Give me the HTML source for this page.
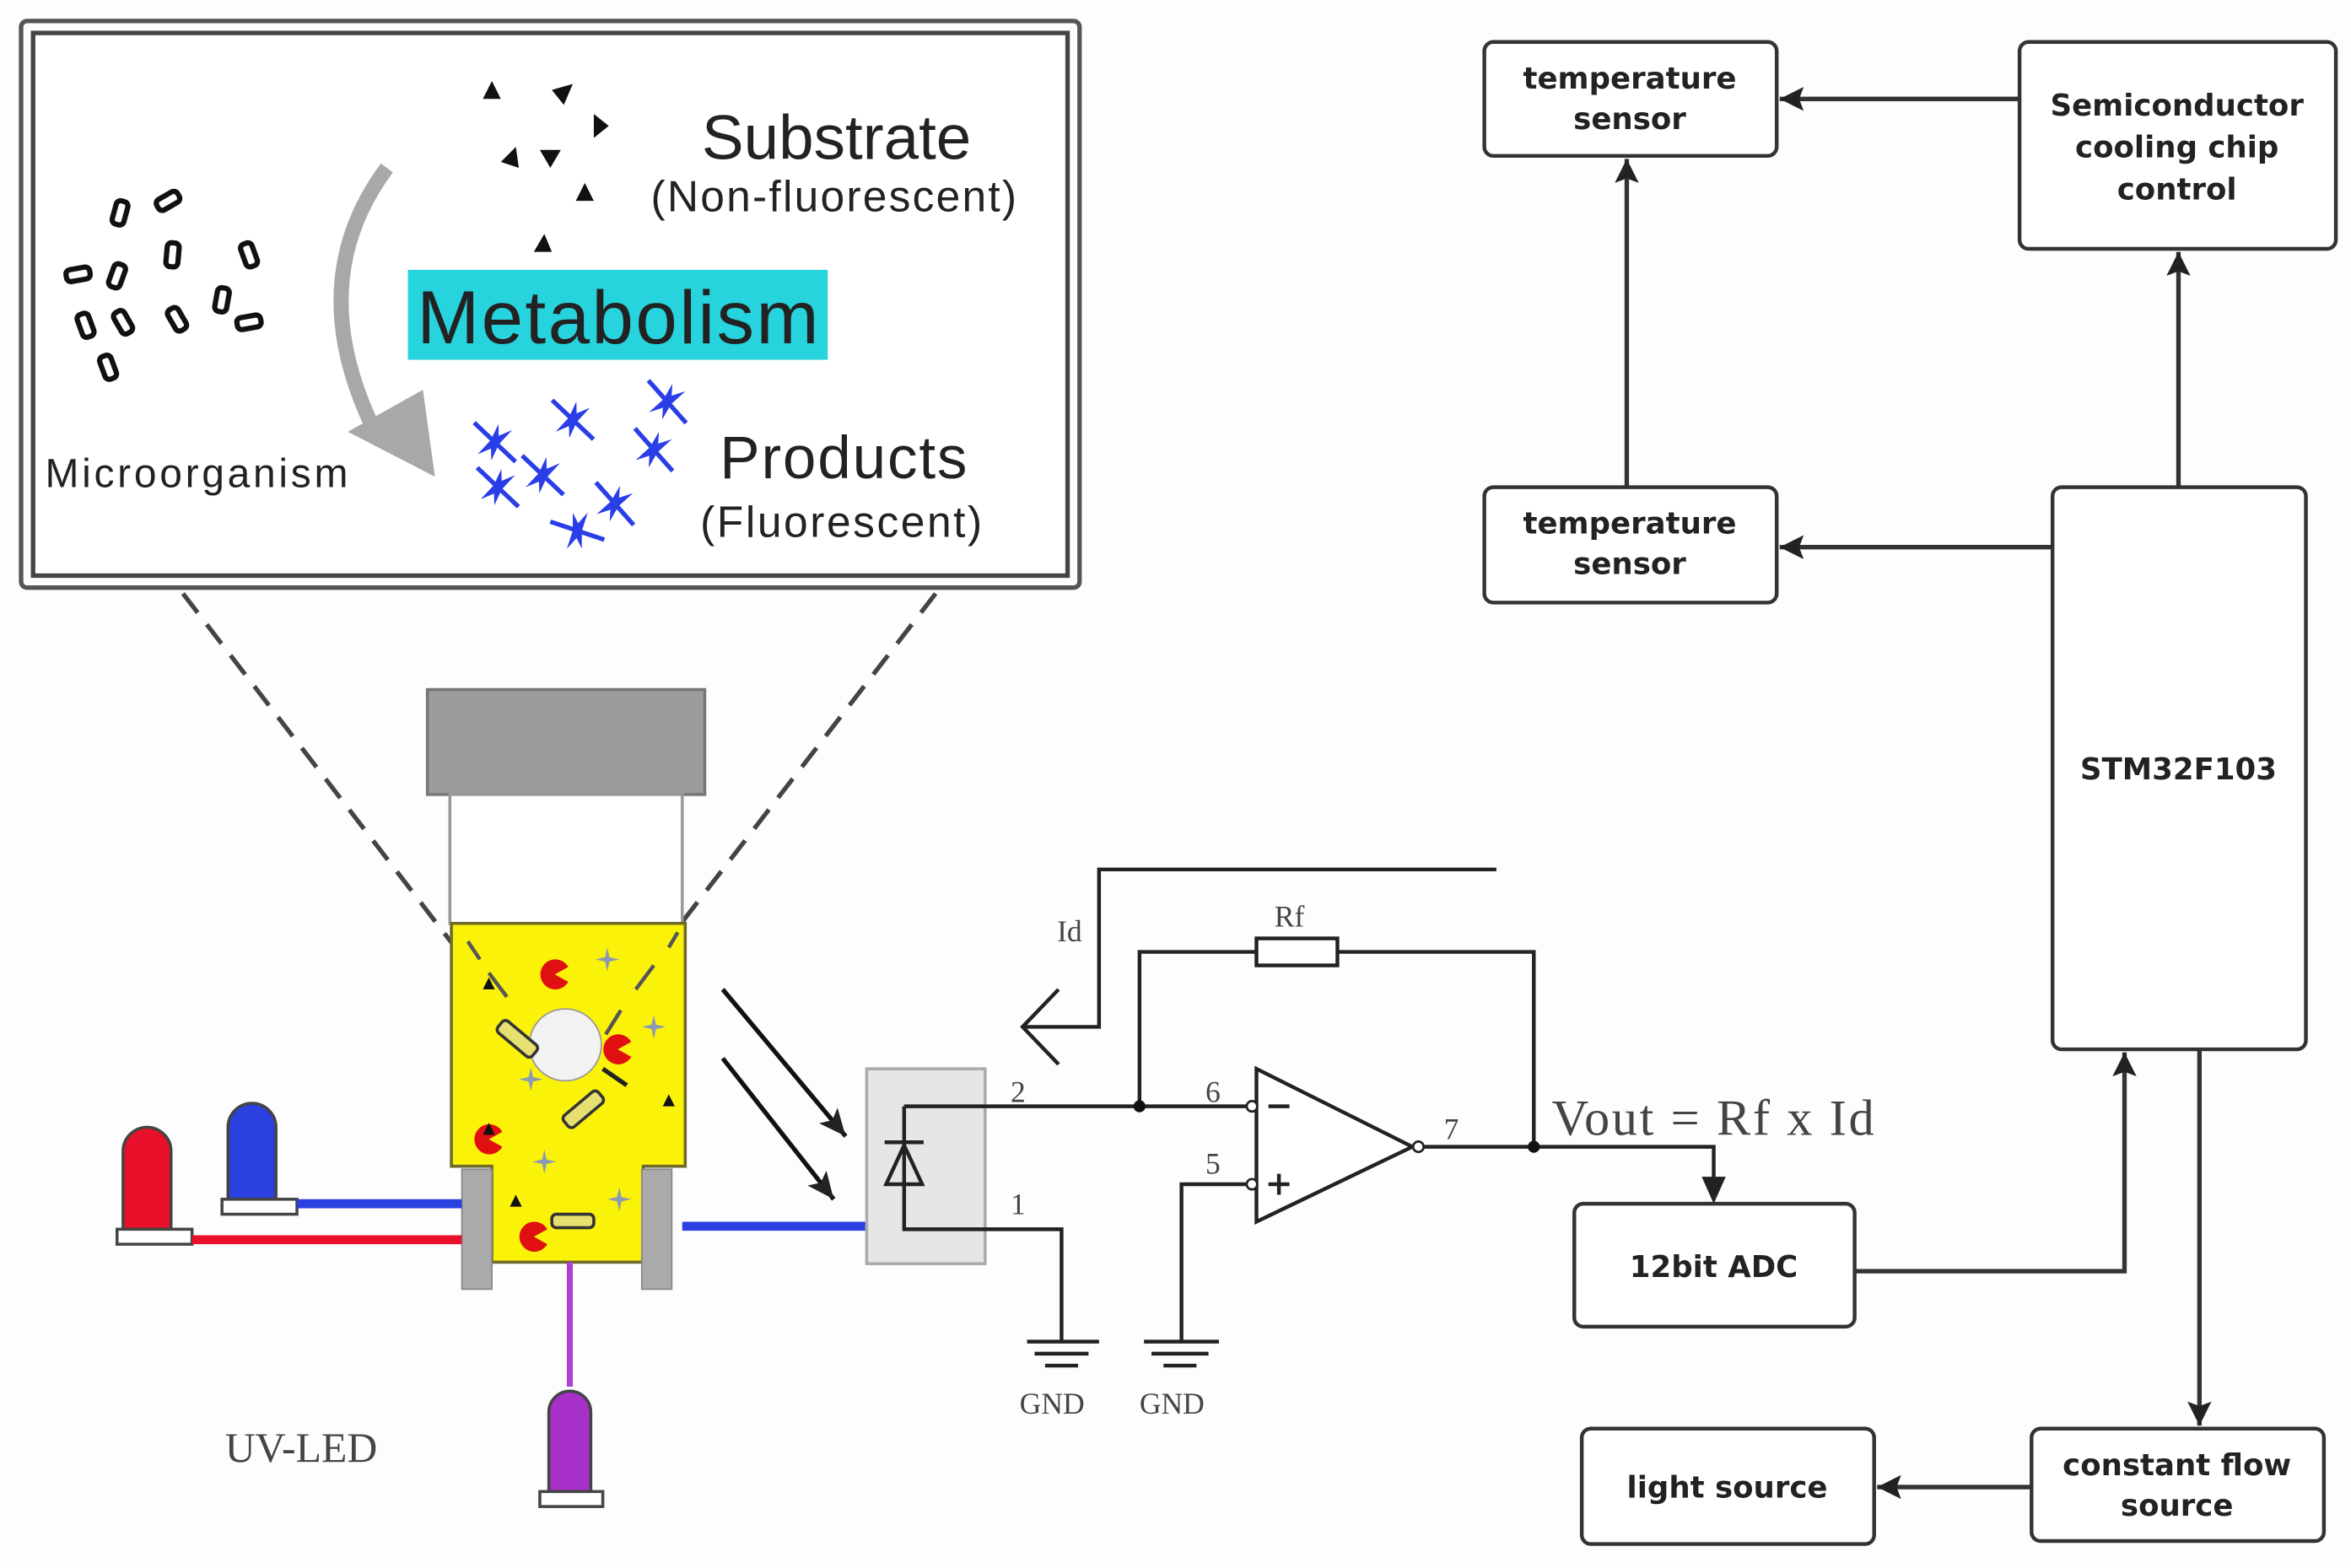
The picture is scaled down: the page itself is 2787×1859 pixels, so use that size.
<!DOCTYPE html>
<html><head><meta charset="utf-8"><style>
html,body{margin:0;padding:0;background:#fdfdfd;}
svg{display:block;}
.b{font-family:"DejaVu Sans","Liberation Sans",sans-serif;font-weight:bold;font-size:20px;fill:#222;text-anchor:middle;}
.s{font-family:"Liberation Sans",sans-serif;fill:#222;}
.r{font-family:"Liberation Serif",serif;fill:#444;}
</style></head><body>
<svg width="2787" height="1859" viewBox="0 0 1568 1046" xmlns="http://www.w3.org/2000/svg">
<defs>
<marker id="ah" markerWidth="18" markerHeight="18" refX="16" refY="8" orient="auto" markerUnits="userSpaceOnUse"><path d="M0,0 L16,8 L0,16 L3,8 z" fill="#222"/></marker>
<marker id="ah2" markerWidth="20" markerHeight="20" refX="18" refY="8" orient="auto" markerUnits="userSpaceOnUse"><path d="M0,0 L18,8 L0,16 L4,8 z" fill="#222"/></marker>
<g id="bac"><rect x="-4" y="-8" width="8" height="16" rx="3" fill="none" stroke="#111" stroke-width="3.5"/></g>
<g id="star"><path d="M-18,-6 L18,6" stroke="#2a3ee8" stroke-width="3"/><path d="M-3,-12 L3,0 L3,12 L-3,0z" fill="#2a3ee8"/><path d="M-14,0 L0,-3 L14,0 L0,3z" fill="#2a3ee8" transform="rotate(-60)"/></g>
<g id="sp"><path d="M0,-8 L1.5,-1.5 L8,0 L1.5,1.5 L0,8 L-1.5,1.5 L-8,0 L-1.5,-1.5z" fill="#8a9ab5"/></g>
<g id="pac"><path d="M0,0 L9,-5 A10,10 0 1 0 9,5 z" fill="#e01010"/></g>
</defs>
<rect width="1568" height="1046" fill="#fdfdfd"/>

<rect x="14" y="14" width="706" height="378" rx="4" fill="none" stroke="#555" stroke-width="3"/>
<rect x="22" y="22" width="690" height="362" fill="#fff" stroke="#444" stroke-width="3"/>
<g fill="#111">
<path d="M322,66 L334,66 L328,54z"/><path d="M368,60 L382,56 L376,70z"/><path d="M396,76 L406,84 L396,92z"/>
<path d="M334,108 L344,98 L346,112z"/><path d="M360,100 L374,100 L367,112z"/><path d="M384,134 L396,134 L390,122z"/>
<path d="M356,168 L368,168 L363,156z"/>
</g>
<use href="#bac" transform="translate(78,184) rotate(20)"/><use href="#bac" transform="translate(112,134) rotate(60)"/>
<use href="#bac" transform="translate(80,142) rotate(15)"/><use href="#bac" transform="translate(115,170) rotate(5)"/>
<use href="#bac" transform="translate(52,183) rotate(80)"/><use href="#bac" transform="translate(57,217) rotate(-20)"/>
<use href="#bac" transform="translate(82,215) rotate(-30)"/><use href="#bac" transform="translate(118,213) rotate(-30)"/>
<use href="#bac" transform="translate(148,200) rotate(10)"/><use href="#bac" transform="translate(166,215) rotate(80)"/>
<use href="#bac" transform="translate(72,245) rotate(-20)"/><use href="#bac" transform="translate(166,170) rotate(-20)"/>
<path d="M258,112 Q200,190 252,292" fill="none" stroke="#a8a8a8" stroke-width="10"/>
<path d="M232,288 L290,318 L282,260 z" fill="#a8a8a8"/>
<text x="468" y="106" class="s" font-size="42">Substrate</text>
<text x="434" y="141" class="s" font-size="29" textLength="244">(Non-fluorescent)</text>
<rect x="272" y="180" width="280" height="60" fill="#27d3dc"/>
<text x="278" y="229" class="s" font-size="50" textLength="268">Metabolism</text>
<text x="30" y="325" class="s" font-size="27" textLength="202">Microorganism</text>
<text x="480" y="319" class="s" font-size="40" textLength="165">Products</text>
<text x="467" y="358" class="s" font-size="29" textLength="188">(Fluorescent)</text>
<use href="#star" transform="translate(330,295) rotate(25)"/><use href="#star" transform="translate(382,280) rotate(25)"/>
<use href="#star" transform="translate(445,268) rotate(30)"/><use href="#star" transform="translate(436,300) rotate(30)"/>
<use href="#star" transform="translate(362,317) rotate(25)"/><use href="#star" transform="translate(332,325) rotate(25)"/>
<use href="#star" transform="translate(410,336) rotate(30)"/><use href="#star" transform="translate(385,354) rotate(0)"/>

<path d="M122,396 L302,630" stroke="#444" stroke-width="3" stroke-dasharray="16,10"/>
<path d="M624,396 L455,615" stroke="#444" stroke-width="3" stroke-dasharray="16,10"/>

<rect x="285" y="460" width="185" height="70" fill="#9c9c9c" stroke="#777" stroke-width="2"/>
<rect x="300" y="530" width="155" height="86" fill="#fff" stroke="#999" stroke-width="2"/>
<path d="M301,616 L457,616 L457,778 L429,778 L429,842 L328,842 L328,778 L301,778z" fill="#fbf20a" stroke="#6d6a2a" stroke-width="2"/>
<rect x="308" y="780" width="20" height="80" fill="#aaa" stroke="#888"/>
<rect x="428" y="780" width="20" height="80" fill="#aaa" stroke="#888"/>
<g stroke="#555" stroke-width="2.5">
<path d="M312,628 L320,640"/><path d="M326,649 L338,665"/>
<path d="M452,622 L446,632"/><path d="M436,644 L424,660"/><path d="M414,674 L404,690"/>
</g>
<path d="M402,713 L418,724" stroke="#222" stroke-width="3"/>
<circle cx="377" cy="697" r="24" fill="#f2f2f2" stroke="#999"/>
<use href="#pac" transform="translate(370,650)"/><use href="#pac" transform="translate(412,700)"/>
<use href="#pac" transform="translate(326,760)"/><use href="#pac" transform="translate(356,825)"/>
<use href="#sp" transform="translate(405,640)"/><use href="#sp" transform="translate(436,685)"/>
<use href="#sp" transform="translate(354,720)"/><use href="#sp" transform="translate(363,775)"/><use href="#sp" transform="translate(413,800)"/>
<g fill="#111"><path d="M322,660 L330,660 L326,652z"/><path d="M322,757 L330,757 L326,749z"/><path d="M442,738 L450,738 L446,730z"/><path d="M340,805 L348,805 L344,797z"/></g>
<rect x="330" y="688" width="30" height="10" rx="3" transform="rotate(40 345 693)" fill="#e6e070" stroke="#333" stroke-width="2"/>
<rect x="374" y="735" width="30" height="10" rx="3" transform="rotate(-40 389 740)" fill="#e6e070" stroke="#333" stroke-width="2"/>
<rect x="368" y="810" width="28" height="9" rx="3" fill="#e6e070" stroke="#333" stroke-width="2"/>

<path d="M82,820 L82,768 A16,16 0 0 1 114,768 L114,820z" fill="#e8102a" stroke="#444" stroke-width="2"/>
<rect x="78" y="820" width="50" height="10" fill="#fff" stroke="#444" stroke-width="2"/>
<path d="M152,800 L152,752 A16,16 0 0 1 184,752 L184,800z" fill="#2a40e0" stroke="#444" stroke-width="2"/>
<rect x="148" y="800" width="50" height="10" fill="#fff" stroke="#444" stroke-width="2"/>
<path d="M198,803 L308,803" stroke="#2a40e0" stroke-width="6"/>
<path d="M128,827 L308,827" stroke="#e8102a" stroke-width="6"/>
<path d="M380,842 L380,925" stroke="#b040d0" stroke-width="4"/>
<path d="M366,995 L366,942 A14,14 0 0 1 394,942 L394,995z" fill="#a630c8" stroke="#444" stroke-width="2"/>
<rect x="360" y="995" width="42" height="10" fill="#fff" stroke="#444" stroke-width="2"/>
<text x="150" y="975" class="r" font-size="28" fill="#333">UV-LED</text>
<path d="M455,818 L578,818" stroke="#2a40e0" stroke-width="6"/>

<path d="M482,660 L564,758" stroke="#111" stroke-width="3" marker-end="url(#ah2)"/>
<path d="M482,706 L556,800" stroke="#111" stroke-width="3" marker-end="url(#ah2)"/>

<rect x="578" y="713" width="79" height="130" fill="#e6e6e6" stroke="#aaa" stroke-width="2"/>
<g stroke="#222" stroke-width="2.5" fill="none">
<path d="M603,738 L760,738 L832,738"/>
<path d="M603,738 L603,820 L708,820 L708,895"/>
<path d="M590,762 L616,762 M591,790 L615,790 L603,764 z"/>
<path d="M760,738 L760,635 L838,635 M892,635 L1023,635 L1023,765"/>
<rect x="838" y="626" width="54" height="18" fill="#fff"/>
<path d="M832,790 L788,790 L788,895"/>
<path d="M838,713 L838,815 L942,765 z" fill="#fff"/>
<path d="M948,765 L1143,765 L1143,790"/>
<path d="M998,580 L733,580 L733,685 L682,685 M706,660 L682,685 L706,710"/>
<path d="M685,895 L733,895 M690,903 L726,903 M697,911 L719,911 M763,895 L813,895 M768,903 L806,903 M776,911 L798,911"/>
</g>
<circle cx="760" cy="738" r="4" fill="#111"/><circle cx="1023" cy="765" r="4" fill="#111"/>
<path d="M1135,785 L1151,785 L1143,803z" fill="#222"/>
<circle cx="835" cy="738" r="3.5" fill="#fff" stroke="#222" stroke-width="1.5"/>
<circle cx="835" cy="790" r="3.5" fill="#fff" stroke="#222" stroke-width="1.5"/>
<circle cx="946" cy="765" r="3.5" fill="#fff" stroke="#222" stroke-width="1.5"/>
<path d="M846,738 L860,738 M846,790 L860,790 M853,783 L853,797" stroke="#222" stroke-width="2.5"/>
<g class="r" font-size="20"><text x="674" y="735">2</text><text x="674" y="810">1</text><text x="804" y="735">6</text><text x="804" y="783">5</text><text x="963" y="760">7</text>
<text x="850" y="618">Rf</text><text x="705" y="628">Id</text>
<text x="680" y="943" font-size="20">GND</text><text x="760" y="943" font-size="20">GND</text></g>
<text x="1035" y="757" class="r" font-size="34" textLength="215">Vout = Rf x Id</text>

<g fill="#fff" stroke="#333" stroke-width="2.5">
<rect x="990" y="28" width="195" height="76" rx="6"/>
<rect x="1347" y="28" width="211" height="138" rx="6"/>
<rect x="990" y="325" width="195" height="77" rx="6"/>
<rect x="1369" y="325" width="169" height="375" rx="6"/>
<rect x="1050" y="803" width="187" height="82" rx="6"/>
<rect x="1055" y="953" width="195" height="77" rx="6"/>
<rect x="1355" y="953" width="195" height="75" rx="6"/>
</g>
<g stroke="#333" stroke-width="3" fill="none">
<path d="M1347,66 L1187,66" marker-end="url(#ah)"/>
<path d="M1085,325 L1085,106" marker-end="url(#ah)"/>
<path d="M1453,325 L1453,168" marker-end="url(#ah)"/>
<path d="M1369,365 L1187,365" marker-end="url(#ah)"/>
<path d="M1237,848 L1417,848 L1417,702" marker-end="url(#ah)"/>
<path d="M1467,700 L1467,951" marker-end="url(#ah)"/>
<path d="M1355,992 L1252,992" marker-end="url(#ah)"/>
</g>
<text x="1087" y="59" class="b">temperature</text><text x="1087" y="86" class="b">sensor</text>
<text x="1452" y="77" class="b">Semiconductor</text><text x="1452" y="105" class="b">cooling chip</text><text x="1452" y="133" class="b">control</text>
<text x="1087" y="356" class="b">temperature</text><text x="1087" y="383" class="b">sensor</text>
<text x="1453" y="520" class="b">STM32F103</text>
<text x="1143" y="852" class="b">12bit ADC</text>
<text x="1152" y="999" class="b">light source</text>
<text x="1452" y="984" class="b">constant flow</text><text x="1452" y="1011" class="b">source</text>
</svg>
</body></html>
